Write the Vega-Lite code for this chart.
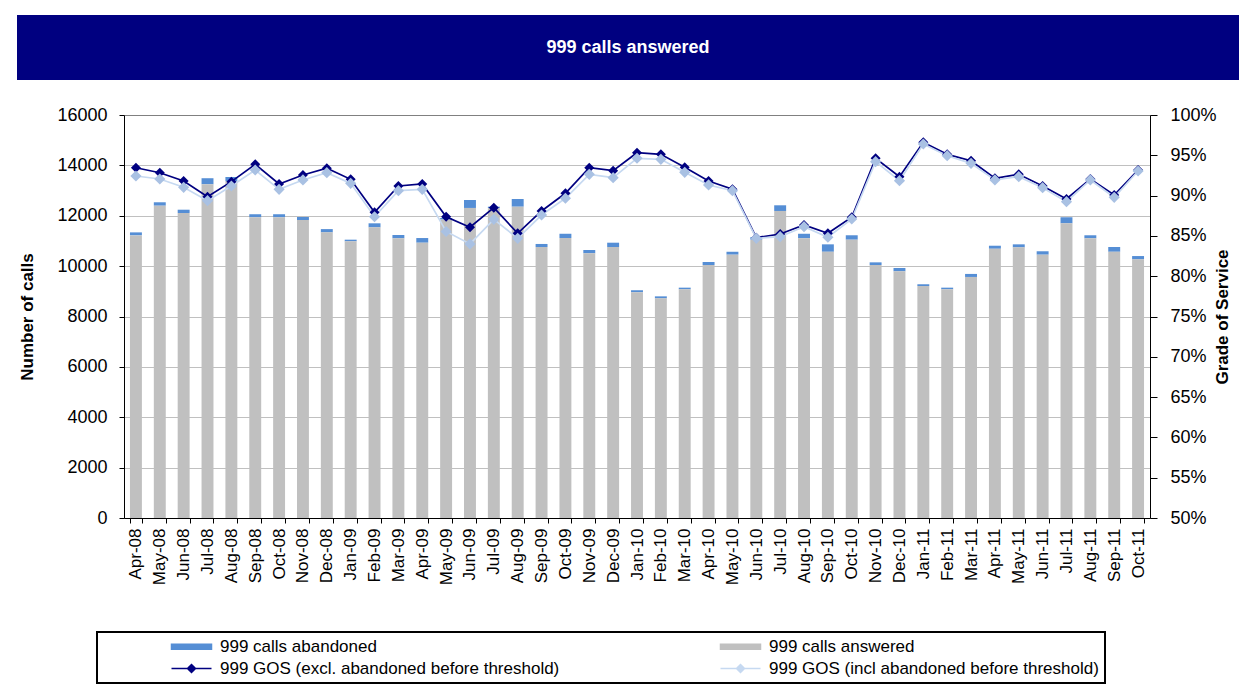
{
  "$schema": "https://vega.github.io/schema/vega-lite/v6.json",
  "background": "white",
  "padding": {"left": 17, "top": 15, "right": 0, "bottom": 0},
  "spacing": 26,
  "config": {
    "font": "Liberation Sans",
    "view": {"stroke": null},
    "axis": {"labelFont": "Liberation Sans", "titleFont": "Liberation Sans", "labelColor": "#000000", "titleColor": "#000000", "domainColor": "#000000", "tickColor": "#000000"},
    "legend": {"labelFont": "Liberation Sans"}
  },
  "vconcat": [
    {
      "width": 1222,
      "height": 65,
      "view": {"fill": "#000080", "stroke": null},
      "data": {"values": [{"t": "999 calls answered"}]},
      "mark": {"type": "text", "color": "#FFFFFF", "fontSize": 18, "fontWeight": "bold", "font": "Liberation Sans", "align": "center", "baseline": "middle"},
      "encoding": {"text": {"field": "t", "type": "nominal"}}
    },
    {
      "spacing": 0,
      "hconcat": [
        {
          "width": 1,
          "height": 403,
          "view": {"stroke": null},
          "data": {"values": [{"t": ""}]},
          "mark": {"type": "text"},
          "encoding": {"text": {"field": "t", "type": "nominal"}}
        },
        {
          "width": 1026,
          "height": 403,
          "data": {"values": [
            {"month": "Apr-08", "answered": 11220, "abandoned": 120, "excl": 0.9346, "incl": 0.9243},
            {"month": "May-08", "answered": 12400, "abandoned": 135, "excl": 0.9284, "incl": 0.9206},
            {"month": "Jun-08", "answered": 12110, "abandoned": 130, "excl": 0.9181, "incl": 0.9103},
            {"month": "Jul-08", "answered": 13250, "abandoned": 240, "excl": 0.8986, "incl": 0.8937},
            {"month": "Aug-08", "answered": 13380, "abandoned": 160, "excl": 0.9173, "incl": 0.9119},
            {"month": "Sep-08", "answered": 11940, "abandoned": 120, "excl": 0.9388, "incl": 0.9318},
            {"month": "Oct-08", "answered": 11940, "abandoned": 120, "excl": 0.9144, "incl": 0.9078},
            {"month": "Nov-08", "answered": 11830, "abandoned": 120, "excl": 0.9256, "incl": 0.9194},
            {"month": "Dec-08", "answered": 11340, "abandoned": 130, "excl": 0.9339, "incl": 0.9284},
            {"month": "Jan-09", "answered": 10985, "abandoned": 65, "excl": 0.9202, "incl": 0.9152},
            {"month": "Feb-09", "answered": 11540, "abandoned": 160, "excl": 0.8793, "incl": 0.8738},
            {"month": "Mar-09", "answered": 11105, "abandoned": 130, "excl": 0.9119, "incl": 0.9061},
            {"month": "Apr-09", "answered": 10930, "abandoned": 185, "excl": 0.9144, "incl": 0.9078},
            {"month": "May-09", "answered": 11850, "abandoned": 60, "excl": 0.8738, "incl": 0.8555},
            {"month": "Jun-09", "answered": 12310, "abandoned": 315, "excl": 0.8607, "incl": 0.8400},
            {"month": "Jul-09", "answered": 12300, "abandoned": 60, "excl": 0.8850, "incl": 0.8706},
            {"month": "Aug-09", "answered": 12360, "abandoned": 305, "excl": 0.8532, "incl": 0.8470},
            {"month": "Sep-09", "answered": 10760, "abandoned": 120, "excl": 0.8809, "incl": 0.8759},
            {"month": "Oct-09", "answered": 11115, "abandoned": 170, "excl": 0.9029, "incl": 0.8967},
            {"month": "Nov-09", "answered": 10510, "abandoned": 130, "excl": 0.9346, "incl": 0.9264},
            {"month": "Dec-09", "answered": 10760, "abandoned": 170, "excl": 0.9309, "incl": 0.9222},
            {"month": "Jan-10", "answered": 8960, "abandoned": 80, "excl": 0.9532, "incl": 0.9463},
            {"month": "Feb-10", "answered": 8720, "abandoned": 80, "excl": 0.9512, "incl": 0.9450},
            {"month": "Mar-10", "answered": 9080, "abandoned": 65, "excl": 0.9351, "incl": 0.9289},
            {"month": "Apr-10", "answered": 10045, "abandoned": 120, "excl": 0.9181, "incl": 0.9132},
            {"month": "May-10", "answered": 10455, "abandoned": 115, "excl": 0.9078, "incl": 0.9061},
            {"month": "Jun-10", "answered": 11050, "abandoned": 100, "excl": 0.8478, "incl": 0.8470},
            {"month": "Jul-10", "answered": 12190, "abandoned": 225, "excl": 0.8524, "incl": 0.8490},
            {"month": "Aug-10", "answered": 11105, "abandoned": 180, "excl": 0.8635, "incl": 0.8614},
            {"month": "Sep-10", "answered": 10570, "abandoned": 295, "excl": 0.8532, "incl": 0.8483},
            {"month": "Oct-10", "answered": 11050, "abandoned": 175, "excl": 0.8731, "incl": 0.8710},
            {"month": "Nov-10", "answered": 10045, "abandoned": 105, "excl": 0.9463, "incl": 0.9421},
            {"month": "Dec-10", "answered": 9795, "abandoned": 130, "excl": 0.9235, "incl": 0.9185},
            {"month": "Jan-11", "answered": 9210, "abandoned": 70, "excl": 0.9661, "incl": 0.9640},
            {"month": "Feb-11", "answered": 9080, "abandoned": 65, "excl": 0.9512, "incl": 0.9495},
            {"month": "Mar-11", "answered": 9570, "abandoned": 120, "excl": 0.9433, "incl": 0.9400},
            {"month": "Apr-11", "answered": 10690, "abandoned": 120, "excl": 0.9215, "incl": 0.9194},
            {"month": "May-11", "answered": 10745, "abandoned": 120, "excl": 0.9264, "incl": 0.9235},
            {"month": "Jun-11", "answered": 10455, "abandoned": 135, "excl": 0.9119, "incl": 0.9098},
            {"month": "Jul-11", "answered": 11700, "abandoned": 240, "excl": 0.8958, "incl": 0.8925},
            {"month": "Aug-11", "answered": 11105, "abandoned": 120, "excl": 0.9206, "incl": 0.9194},
            {"month": "Sep-11", "answered": 10570, "abandoned": 190, "excl": 0.9007, "incl": 0.8979},
            {"month": "Oct-11", "answered": 10270, "abandoned": 130, "excl": 0.9318, "incl": 0.9305}
          ]},
          "resolve": {"scale": {"y": "independent"}},
          "layer": [
            {
              "transform": [{"fold": ["abandoned", "answered"], "as": ["series", "calls"]}],
              "mark": {"type": "bar"},
              "encoding": {
                "x": {"field": "month", "type": "nominal", "sort": null,
                  "scale": {"paddingInner": 0.5, "paddingOuter": 0.25},
                  "axis": {"title": null, "labelAngle": 270, "labelFontSize": 17, "labelPadding": 5, "tickSize": 5, "tickBand": "extent", "grid": false, "domainColor": "#000000"}},
                "y": {"field": "calls", "type": "quantitative", "stack": "zero",
                  "scale": {"domain": [0, 16000], "nice": false},
                  "axis": {"orient": "left", "values": [0, 2000, 4000, 6000, 8000, 10000, 12000, 14000, 16000], "format": "d",
                    "title": "Number of calls", "titleFontSize": 17, "titleFontWeight": "bold", "titlePadding": 20,
                    "labelFontSize": 18, "labelPadding": 12, "tickSize": 5, "grid": true,
                    "gridColor": {"condition": {"test": "datum.value === 16000", "value": "#808080"}, "value": "#C0C0C0"}}},
                "color": {"field": "series", "type": "nominal",
                  "scale": {"domain": ["abandoned", "answered", "excl", "incl"], "range": ["#558ED5", "#C0C0C0", "#000080", "#C6D9F1"]},
                  "legend": {"orient": "none", "legendX": 80, "legendY": 617, "direction": "horizontal", "columns": 2, "title": null,
                    "gridAlign": "all",
                    "strokeColor": "#000000", "padding": 6, "columnPadding": 92, "rowPadding": 4, "labelFontSize": 17, "labelColor": "#000000",
                    "symbolSize": 100, "labelOffset": 100, "labelLimit": 600,
                    "labelExpr": "datum.value == 'abandoned' ? '999 calls abandoned' : datum.value == 'answered' ? '999 calls answered' : datum.value == 'excl' ? '999 GOS (excl. abandoned before threshold)' : '999 GOS (incl abandoned before threshold)'",
                    "encode": {
                      "legend": {"update": {"strokeWidth": {"value": 2}}},
                      "symbols": {"update": {
                        "shape": {"signal": "datum.value == 'excl' || datum.value == 'incl' ? 'M12,0H20M16,-0.8L16.8,0L16,0.8L15.2,0Z' : 'M12,-0.5H20V0.5H12Z'"},
                        "fill": {"scale": "color", "field": "value"},
                        "stroke": {"scale": "color", "field": "value"},
                        "strokeWidth": {"value": 1.5},
                        "opacity": {"value": 1}
                      }}
                    }}},
                "order": {"field": "series", "sort": "descending"}
              }
            },
            {
              "transform": [{"fold": ["excl", "incl"], "as": ["series", "gos"]}],
              "layer": [
                {
                  "mark": {"type": "line", "strokeWidth": 1.7},
                  "encoding": {
                    "x": {"field": "month", "type": "nominal", "sort": null},
                    "y": {"field": "gos", "type": "quantitative",
                      "scale": {"domain": [0.5, 1.0], "nice": false, "zero": false},
                      "axis": {"orient": "right", "values": [0.5, 0.55, 0.6, 0.65, 0.7, 0.75, 0.8, 0.85, 0.9, 0.95, 1.0], "format": ".0%",
                        "title": "Grade of Service", "titleFontSize": 17, "titleFontWeight": "bold", "titleAngle": 270, "titlePadding": 15,
                        "labelFontSize": 18, "labelPadding": 13, "tickSize": 7, "grid": false}},
                    "color": {"field": "series", "type": "nominal"}
                  }
                },
                {
                  "mark": {"type": "point", "shape": "diamond", "filled": true, "strokeWidth": 0, "opacity": 1},
                  "encoding": {
                    "x": {"field": "month", "type": "nominal", "sort": null},
                    "y": {"field": "gos", "type": "quantitative",
                      "scale": {"domain": [0.5, 1.0], "nice": false, "zero": false},
                      "axis": {"orient": "right", "values": [0.5, 0.55, 0.6, 0.65, 0.7, 0.75, 0.8, 0.85, 0.9, 0.95, 1.0], "format": ".0%",
                        "title": "Grade of Service", "titleFontSize": 17, "titleFontWeight": "bold", "titleAngle": 270, "titlePadding": 15,
                        "labelFontSize": 18, "labelPadding": 13, "tickSize": 7, "grid": false}},
                    "fill": {"field": "series", "type": "nominal", "scale": {"domain": ["excl", "incl"], "range": ["#000080", "#A9C1E3"]}, "legend": null},
                    "size": {"field": "series", "type": "nominal", "scale": {"domain": ["excl", "incl"], "range": [100, 125]}, "legend": null}
                  }
                }
              ]
            }
          ]
        }
      ]
    }
  ]
}
